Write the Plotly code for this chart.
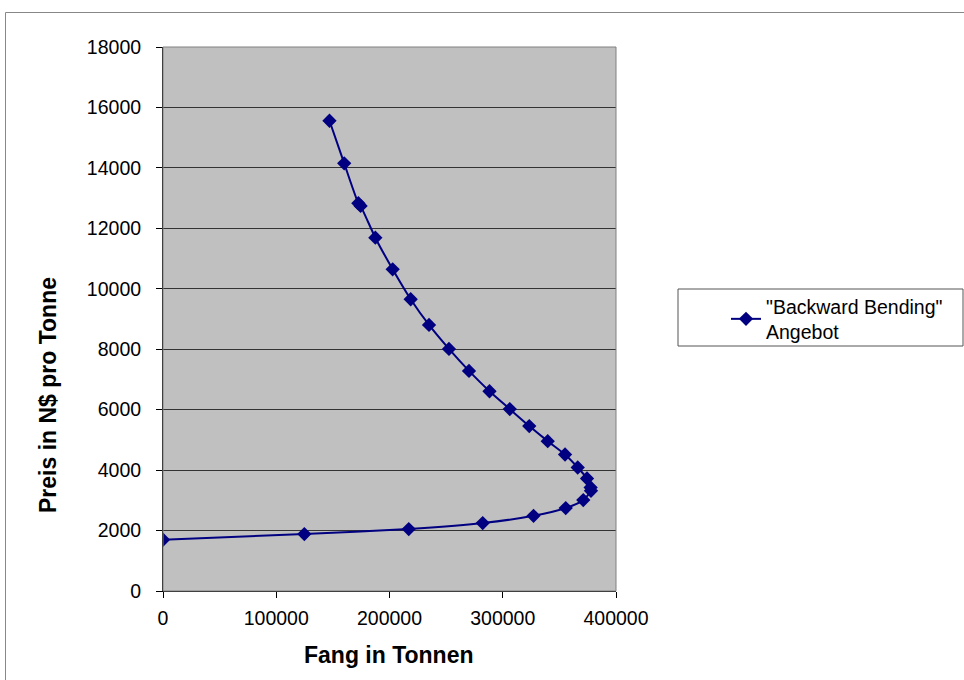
import plotly.graph_objects as go

# Data
fang = [147000, 160000, 172500, 174500, 187500, 202800, 218700, 234900, 252500,
        270200, 288300, 306200, 323400, 339700, 355000, 366200, 374400, 377600,
        377900, 371100, 355600, 327200, 282300, 217000, 124800, 0]
preis = [15560, 14150, 12830, 12740, 11690, 10645, 9653, 8803, 8010,
         7283, 6610, 6020, 5458, 4959, 4516, 4086, 3722, 3425,
         3316, 3008, 2744, 2489, 2248, 2050, 1884, 1696]
series_name = '"Backward Bending"<br>Angebot'
x_ticks = [0, 100000, 200000, 300000, 400000]
y_ticks = list(range(0, 18001, 2000))

W, H = 964, 680
L, R, T, B = 163, 616, 47, 591  # plot area pixels
pw, ph = R - L, B - T

def px(x):
    return (x - L) / pw

def py(y):
    return (B - y) / ph

font = "Liberation Sans, Arial, sans-serif"

fig = go.Figure()
fig.add_trace(go.Scatter(
    x=fang, y=preis, mode="lines+markers", name=series_name,
    line=dict(color="#000080", width=2, shape="spline", smoothing=0.6),
    marker=dict(symbol="diamond", size=11, color="#000080"),
))

fig.update_layout(
    width=W, height=H,
    margin=dict(l=L, r=W - R, t=T, b=H - B),
    paper_bgcolor="white", plot_bgcolor="#c0c0c0",
    font=dict(family=font, size=19.5, color="black"),
    showlegend=True,
    legend=dict(x=px(726), y=py(287), xanchor="left", yanchor="top",
                bgcolor="rgba(0,0,0,0)", borderwidth=0,
                font=dict(size=19.5, family=font)),
    xaxis=dict(range=[0, 400000], tickvals=x_ticks, ticktext=[str(v) for v in x_ticks],
               showgrid=False, zeroline=False, showline=True, linecolor="black",
               linewidth=1, ticks="outside", ticklen=6, tickcolor="black",
               ticklabelstandoff=4, tickfont=dict(size=19.5)),
    yaxis=dict(range=[0, 18000], tickvals=y_ticks, ticktext=[str(v) for v in y_ticks],
               showgrid=True, gridcolor="#333333", gridwidth=1, zeroline=False,
               showline=True, linecolor="black", linewidth=1, ticks="outside",
               ticklen=6, tickcolor="black", ticklabelstandoff=11,
               tickfont=dict(size=19.5)),
    shapes=[
        # plot area border (top/right)
        dict(type="rect", xref="paper", yref="paper", x0=0, x1=1, y0=0, y1=1,
             line=dict(color="#808080", width=1), layer="above"),
        # legend box
        dict(type="rect", xref="paper", yref="paper", x0=px(678), x1=px(963),
             y0=py(346), y1=py(289), line=dict(color="#555555", width=1)),
        # outer chart border
        dict(type="line", xref="paper", yref="paper", x0=px(5.5), x1=px(970),
             y0=py(12.5), y1=py(12.5), line=dict(color="#888888", width=1)),
        dict(type="line", xref="paper", yref="paper", x0=px(5.5), x1=px(5.5),
             y0=py(12.5), y1=py(690), line=dict(color="#888888", width=1)),
    ],
    annotations=[
        dict(text="<b>Fang in Tonnen</b>", xref="paper", yref="paper",
             x=px(389), y=py(655), xanchor="center", yanchor="middle",
             showarrow=False, font=dict(size=23, family=font)),
        dict(text="<b>Preis in N$ pro Tonne</b>", xref="paper", yref="paper",
             x=px(48), y=py(395), xanchor="center", yanchor="middle",
             textangle=-90, showarrow=False, font=dict(size=23, family=font)),
    ],
)

fig.write_html("out.html")
